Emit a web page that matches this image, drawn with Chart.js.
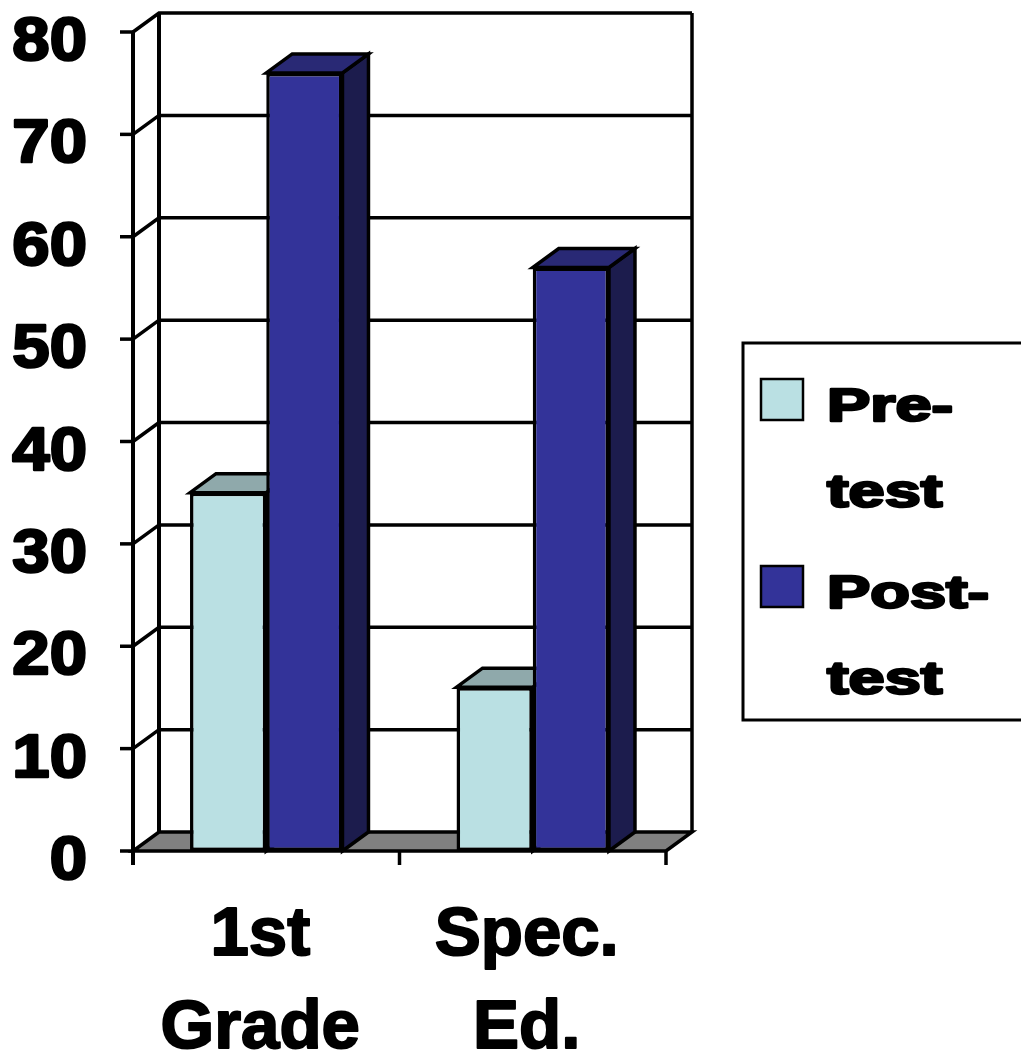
<!DOCTYPE html>
<html><head><meta charset="utf-8">
<script src="https://cdn.jsdelivr.net/npm/chart.js@4/dist/chart.umd.min.js"></script>
<style>html,body{margin:0;padding:0;background:#fff;overflow:hidden}</style>
</head><body>
<canvas id="c" width="1021" height="1055"></canvas>
<script>
// ---- data ----
const categories = ["1st Grade", "Spec. Ed."];
const seriesNames = ["Pre-test", "Post-test"];
const preTest = [35, 16];
const postTest = [76, 57];
const yMin = 0, yMax = 80, yStep = 10;

// ---- styles ----
const FONT = "'Liberation Sans', Arial, Helvetica, sans-serif";
const DEPTH = { dx: 26, dy: -19 };
const faceColors = ["#BAE0E3", "#333399"];
const topColors = ["#8FA9AB", "#292975"];
const sideColors = ["#6E8789", "#1C1C4D"];
const FLOOR = "#808080";

function poly(ctx, pts, fill, lw) {
  ctx.beginPath();
  ctx.moveTo(pts[0][0], pts[0][1]);
  for (let i = 1; i < pts.length; i++) ctx.lineTo(pts[i][0], pts[i][1]);
  ctx.closePath();
  if (fill) { ctx.fillStyle = fill; ctx.fill(); }
  ctx.lineWidth = lw; ctx.strokeStyle = "#000"; ctx.lineJoin = "miter"; ctx.stroke();
}
function line(ctx, pts, lw) {
  ctx.beginPath();
  ctx.moveTo(pts[0][0], pts[0][1]);
  for (let i = 1; i < pts.length; i++) ctx.lineTo(pts[i][0], pts[i][1]);
  ctx.lineWidth = lw; ctx.strokeStyle = "#000"; ctx.lineCap = "butt"; ctx.stroke();
}
function stretchText(ctx, txt, x, y, sx, align, weight) {
  ctx.save();
  ctx.translate(x, y);
  ctx.scale(sx, 1);
  ctx.textAlign = align;
  ctx.textBaseline = "alphabetic";
  ctx.fillStyle = "#000";
  ctx.fillText(txt, 0, 0);
  if (weight) {
    ctx.lineWidth = weight; ctx.strokeStyle = "#000"; ctx.lineJoin = "round";
    ctx.strokeText(txt, 0, 0);
  }
  ctx.restore();
}

const threeD = {
  id: "threeD",
  beforeDatasetsDraw(chart) {
    const ctx = chart.ctx;
    const xs = chart.scales.x, ys = chart.scales.y;
    const x0 = xs.left, x1 = xs.right;
    const yb = ys.getPixelForValue(yMin), yt = ys.getPixelForValue(yMax);
    const { dx, dy } = DEPTH;
    ctx.save();
    ctx.fillStyle = "#fff";
    ctx.fillRect(x0 + dx, yt + dy, x1 - x0, yb - yt);
    ys.ticks.forEach(t => {
      const yf = ys.getPixelForValue(t.value);
      if (t.value === yMin) return;
      line(ctx, [[x0, yf], [x0 + dx, yf + dy], [x1 + dx, yf + dy]], 3.5);
    });
    line(ctx, [[x0 + dx, yt + dy], [x0 + dx, yb + dy]], 4);
    line(ctx, [[x1 + dx, yt + dy], [x1 + dx, yb + dy]], 3.5);
    poly(ctx, [[x0, yb], [x1, yb], [x1 + dx, yb + dy], [x0 + dx, yb + dy]], FLOOR, 3.5);
    line(ctx, [[x0, yt], [x0, yb + 14]], 4);
    ys.ticks.forEach(t => {
      const yf = ys.getPixelForValue(t.value);
      line(ctx, [[x0 - 13, yf], [x0, yf]], 3.5);
    });
    const n = categories.length;
    for (let i = 0; i <= n; i++) {
      const xx = x0 + (x1 - x0) * i / n;
      line(ctx, [[xx, yb], [xx, yb + 14]], 3.5);
    }
    chart.data.datasets.forEach((ds, di) => {
      const meta = chart.getDatasetMeta(di);
      meta.data.forEach(bar => {
        const p = bar.getProps(["x", "y", "base", "width"], true);
        const l = p.x - p.width / 2, r = p.x + p.width / 2;
        poly(ctx, [[r, p.y], [r + dx, p.y + dy], [r + dx, p.base + dy], [r, p.base]], sideColors[di], 3.5);
        poly(ctx, [[l, p.y], [r, p.y], [r + dx, p.y + dy], [l + dx, p.y + dy]], topColors[di], 3.5);
      });
    });
    ctx.restore();
  },
  afterDraw(chart) {
    const ctx = chart.ctx;
    const xs = chart.scales.x, ys = chart.scales.y;
    const yb = ys.getPixelForValue(yMin);
    ctx.save();
    // y tick labels
    ctx.font = "bold 61px " + FONT;
    ys.ticks.forEach(t => {
      const yf = ys.getPixelForValue(t.value);
      stretchText(ctx, String(t.value), 87, yf + 28, 1.1, "right", 2.5);
    });
    // category labels (wrapped at spaces)
    ctx.font = "bold 69px " + FONT;
    chart.data.labels.forEach((lab, i) => {
      const cx = xs.getPixelForValue(i);
      lab.split(" ").forEach((w, k) => {
        stretchText(ctx, w, cx - 6, yb + 104 + k * 93, 1.0, "center", 2);
      });
    });
    // legend
    ctx.lineWidth = 3; ctx.strokeStyle = "#000";
    ctx.fillStyle = "#fff";
    ctx.fillRect(743, 343, 300, 377);
    ctx.strokeRect(743, 343, 300, 377);
    ctx.font = "bold 47px " + FONT;
    chart.data.datasets.forEach((ds, di) => {
      const top = 379 + di * 187;
      ctx.fillStyle = faceColors[di];
      ctx.fillRect(761, top, 42, 41);
      ctx.lineWidth = 2.5; ctx.strokeStyle = "#000"; ctx.strokeRect(761, top, 42, 41);
      const parts = ds.label.replace("-", "-\n").split("\n");
      parts.forEach((s, k) => stretchText(ctx, s, 827, top + 42 + k * 86, 1.38, "left", 2.5));
    });
    ctx.restore();
  }
};

new Chart(document.getElementById("c"), {
  type: "bar",
  data: {
    labels: categories,
    datasets: [
      { label: seriesNames[0], data: preTest, backgroundColor: faceColors[0] },
      { label: seriesNames[1], data: postTest, backgroundColor: faceColors[1] }
    ]
  },
  options: {
    responsive: false,
    devicePixelRatio: 1,
    animation: false,
    events: [],
    layout: { padding: { left: 133, right: 355, top: 32, bottom: 204 } },
    datasets: { bar: { borderColor: "#000", borderWidth: 3.5, borderSkipped: false, categoryPercentage: 0.572, barPercentage: 1.0 } },
    plugins: { legend: { display: false }, tooltip: { enabled: false } },
    scales: {
      x: { display: false, offset: true },
      y: { display: false, min: yMin, max: yMax, ticks: { stepSize: yStep } }
    }
  },
  plugins: [threeD]
});
</script>
</body></html>
